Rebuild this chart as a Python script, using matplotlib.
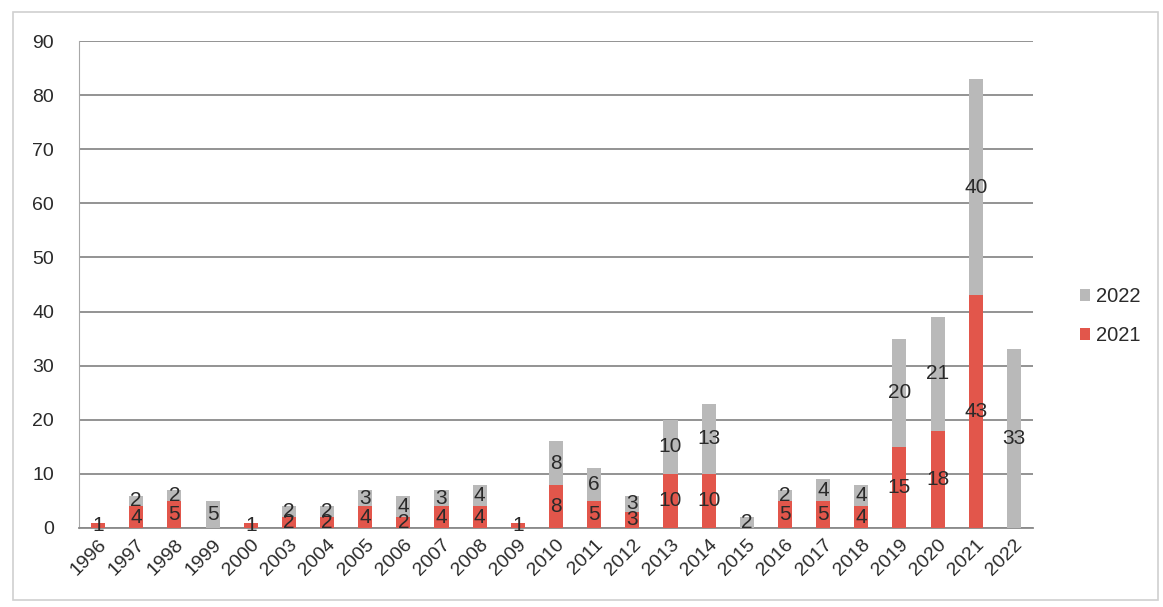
import matplotlib
matplotlib.use("Agg")
import matplotlib.pyplot as plt
from matplotlib.patches import Rectangle
import numpy as np

plt.rcParams["font.family"] = ["Liberation Sans", "DejaVu Sans"]

categories = ["1996", "1997", "1998", "1999", "2000", "2003", "2004", "2005", "2006",
              "2007", "2008", "2009", "2010", "2011", "2012", "2013", "2014", "2015",
              "2016", "2017", "2018", "2019", "2020", "2021", "2022"]
s2021 = [1, 4, 5, 0, 1, 2, 2, 4, 2, 4, 4, 1, 8, 5, 3, 10, 10, 0, 5, 5, 4, 15, 18, 43, 0]
s2022 = [0, 2, 2, 5, 0, 2, 2, 3, 4, 3, 4, 0, 8, 6, 3, 10, 13, 2, 2, 4, 4, 20, 21, 40, 33]
yticks = [0, 10, 20, 30, 40, 50, 60, 70, 80, 90]

RED = "#e2564b"
GRAY = "#b9b9b9"
TXT = "#2a2a2a"

fig = plt.figure(figsize=(11.63, 6.07), dpi=100)
fig.patches.append(Rectangle((0.011, 0.012), 0.985, 0.968, transform=fig.transFigure,
                             fill=False, edgecolor="#d0d0d0", linewidth=1.2))
ax = fig.add_axes([79/1163, 1 - 528/607, (1033-79)/1163, (528-41)/607])

x = np.arange(len(categories))
w = 0.37
b1 = ax.bar(x, s2021, w, color=RED, label="2021", zorder=3)
b2 = ax.bar(x, s2022, w, bottom=s2021, color=GRAY, label="2022", zorder=3)

for i in range(len(categories)):
    if s2021[i] > 0:
        ax.text(x[i], s2021[i] / 2, str(s2021[i]), ha="center", va="center",
                fontsize=15, color=TXT, zorder=4)
    if s2022[i] > 0:
        ax.text(x[i], s2021[i] + s2022[i] / 2, str(s2022[i]), ha="center", va="center",
                fontsize=15, color=TXT, zorder=4)

ax.set_ylim(0, 90)
ax.set_xlim(-0.5, len(categories) - 0.5)
ax.set_yticks(yticks)
ax.set_yticklabels([str(v) for v in yticks], fontsize=14, color=TXT)
ax.set_xticks(x)
ax.set_xticklabels(categories, rotation=45, ha="right", rotation_mode="anchor",
                   fontsize=14, color=TXT)
ax.tick_params(axis="y", length=0, pad=18)
ax.tick_params(axis="x", length=0, pad=6)
ax.yaxis.grid(True, color="#8a8a8a", linewidth=1.3, zorder=0)
ax.set_axisbelow(True)
for s in ["top", "right"]:
    ax.spines[s].set_visible(False)
ax.spines["left"].set_color("#a8a8a8")
ax.spines["bottom"].set_color("#8a8a8a")
ax.spines["bottom"].set_linewidth(1.3)

handles = [b2, b1]
fig.legend(handles, ["2022", "2021"], loc="center left", bbox_to_anchor=(1062/1163, 1 - 316/607),
           frameon=False, fontsize=14.5, handlelength=0.5, handleheight=0.5,
           handletextpad=0.3, labelspacing=1.0, labelcolor=TXT)

fig.savefig("out.png", dpi=100, facecolor="white")
